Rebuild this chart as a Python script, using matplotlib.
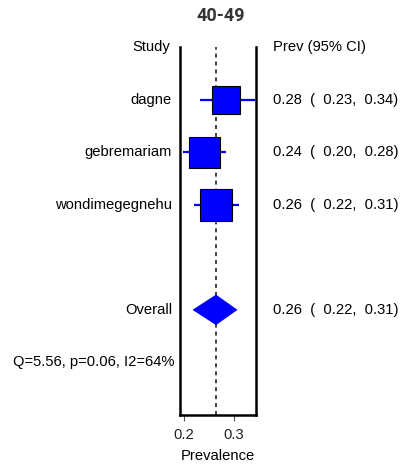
import matplotlib
matplotlib.use("Agg")
import matplotlib.pyplot as plt
from matplotlib.patches import Polygon

studies = ["dagne", "gebremariam", "wondimegegnehu"]
est = [0.284, 0.241, 0.264]
lo = [0.232, 0.198, 0.220]
hi = [0.342, 0.284, 0.310]
weights = [28, 31, 32]
overall_est, overall_lo, overall_hi = 0.264, 0.217, 0.307
het_text = "Q=5.56, p=0.06, I2=64%"
title = "40-49"
xticks = [0.2, 0.3]
xlabel = "Prevalence"

plt.rcParams['font.family'] = ['Liberation Sans', 'DejaVu Sans']
FS = 10.6

fig = plt.figure(figsize=(4.02, 4.66), dpi=100)
ax = fig.add_axes([180/402, (466-415)/466, 76/402, 368/466])
ax.set_xlim(0.192, 0.344)
ax.set_ylim(7.0, 0.0)

rows = [1, 2, 3]
overall_row = 5
het_row = 6

ax.axvline(overall_est, color='#333333', lw=1.3, ls=(0, (2.2, 2.2)), zorder=1)

for r, e, l, h, w in zip(rows, est, lo, hi, weights):
    ax.plot([l, h], [r, r], color='#0000ff', lw=1.6, zorder=2, solid_capstyle='butt')
    ax.plot([e], [r], marker='s', ms=w*0.72, mfc='#0000ff', mec='black', mew=0.8, zorder=3, ls='none')

hh = 0.29
diamond = Polygon([[overall_lo, overall_row], [overall_est, overall_row - hh],
                   [overall_hi, overall_row], [overall_est, overall_row + hh]],
                  closed=True, facecolor='#0000ff', edgecolor='none', zorder=3)
ax.add_patch(diamond)

for s in ['left', 'right', 'bottom']:
    ax.spines[s].set_linewidth(1.8)
    ax.spines[s].set_color('black')
ax.spines['top'].set_visible(False)
ax.set_yticks([])
ax.set_xticks(xticks)
ax.set_xticklabels([f"{t:.1f}" for t in xticks], fontsize=FS, color='#222222')
ax.tick_params(axis='x', direction='out', length=4, width=0.8, color='#555555', pad=5.2)
ax.set_xlabel(xlabel, fontsize=FS, labelpad=5)


def ci_text(e, l, h):
    return f"{e:.2f}  (  {l:.2f},  {h:.2f})"


trans_left = matplotlib.transforms.blended_transform_factory(fig.transFigure, ax.transData)
ax.text(170/402, 0, "Study", transform=trans_left, ha='right', va='center', fontsize=FS)
ax.text(273/402, 0, "Prev (95% CI)", transform=trans_left, ha='left', va='center', fontsize=FS)

for r, name, e, l, h in zip(rows, studies, est, lo, hi):
    ax.text(172/402, r, name, transform=trans_left, ha='right', va='center', fontsize=FS)
    ax.text(273/402, r, ci_text(e, l, h), transform=trans_left,
            ha='left', va='center', fontsize=FS)

ax.text(172/402, overall_row, "Overall", transform=trans_left, ha='right', va='center', fontsize=FS)
ax.text(273/402, overall_row, ci_text(overall_est, overall_lo, overall_hi),
        transform=trans_left, ha='left', va='center', fontsize=FS)
ax.text(175/402, het_row, het_text, transform=trans_left, ha='right', va='center', fontsize=FS)

fig.text(221/402, 1 - 16/466, title, ha='center', va='center', fontsize=13,
         fontweight='bold', family=['Roboto', 'DejaVu Sans'], color='#333333')

fig.savefig("out.png", dpi=100)
